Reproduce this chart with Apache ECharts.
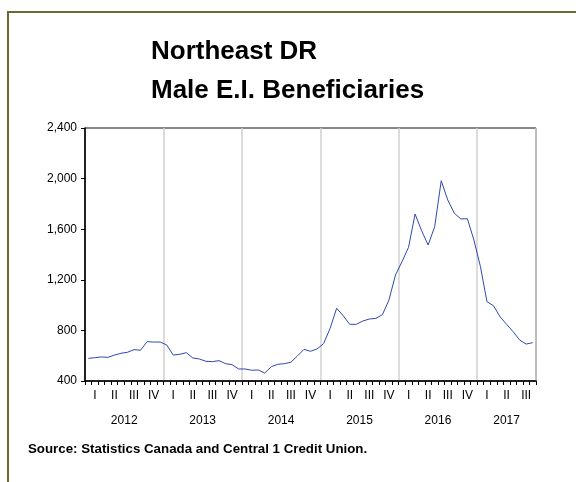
<!DOCTYPE html>
<html>
<head>
<meta charset="utf-8">
<script src="https://cdn.jsdelivr.net/npm/echarts@6/dist/echarts.min.js"></script>
<style>
  html, body { margin: 0; padding: 0; background: #ffffff; }
  #chart { width: 576px; height: 482px; }
</style>
</head>
<body>
<div id="chart"></div>
<script>
// Years shown on the time axis and the quarter numerals under each year
const years = ['2012', '2013', '2014', '2015', '2016', '2017'];
const quarterLabels = ['I', 'II', 'III', 'IV'];
// Months of data available in each year (2017 runs through September)
const monthsPerYear = [12, 12, 12, 12, 12, 9];

// Monthly male E.I. beneficiaries, Northeast development region
const values2012 = [579, 584, 590, 587, 605, 619, 627, 648, 643, 711, 708, 708];
const values2013 = [685, 605, 611, 624, 582, 574, 556, 553, 561, 537, 529, 495];
const values2014 = [495, 485, 487, 463, 513, 532, 537, 548, 598, 650, 635, 653];
const values2015 = [695, 816, 975, 916, 848, 848, 874, 890, 895, 924, 1040, 1238];
const values2016 = [1343, 1457, 1720, 1588, 1475, 1620, 1983, 1831, 1726, 1681, 1683, 1515];
const values2017 = [1304, 1027, 995, 908, 848, 790, 724, 692, 703];

// Value axis ticks
const yMin = 400, yMax = 2400, yStep = 400;

const beneficiaries = [].concat(values2012, values2013, values2014, values2015, values2016, values2017);

// Month categories such as "2012-01"
const months = [];
years.forEach((y, yi) => {
  for (let m = 1; m <= monthsPerYear[yi]; m++) {
    months.push(y + '-' + String(m).padStart(2, '0'));
  }
});

// Centre of each year's span, in months from the start of the axis
const yearCenters = [];
let start = 0;
monthsPerYear.forEach(n => { yearCenters.push(start + n / 2); start += n; });

const chart = echarts.init(document.getElementById('chart'), null, { renderer: 'canvas' });
const font = 'Liberation Sans, Arial, sans-serif';

chart.setOption({
  animation: false,
  backgroundColor: '#ffffff',
  title: {
    text: 'Northeast DR\nMale E.I. Beneficiaries',
    left: 151,
    top: 32,
    padding: 0,
    textStyle: {
      fontFamily: font,
      fontWeight: 'bold',
      fontSize: 26,
      lineHeight: 39,
      color: '#000000'
    }
  },
  graphic: [
    {
      type: 'polyline',
      shape: { points: [[8, 482], [8, 12], [576, 12]] },
      style: { stroke: '#6b6b2f', lineWidth: 2, fill: null }
    },
    {
      type: 'text',
      left: 28,
      top: 443,
      style: {
        text: 'Source: Statistics Canada and Central 1 Credit Union.',
        font: 'bold 13.3px ' + font,
        fill: '#000000'
      }
    }
  ],
  grid: {
    left: 85,
    right: 40,
    top: 128,
    bottom: 101,
    show: true,
    borderColor: '#111111',
    borderWidth: 1,
    backgroundColor: 'transparent'
  },
  xAxis: [
    {
      type: 'category',
      data: months,
      boundaryGap: true,
      axisLine: { lineStyle: { color: '#000000', width: 1.5 } },
      axisTick: {
        show: true,
        interval: 0,
        length: 4,
        lineStyle: { color: '#000000', width: 1 }
      },
      axisLabel: {
        interval: (index) => index % 3 === 1,
        formatter: (value) => {
          const m = parseInt(value.slice(5), 10);
          return quarterLabels[Math.floor((m - 1) / 3)];
        },
        margin: 9,
        fontFamily: font,
        fontSize: 12,
        color: '#000000'
      },
      splitLine: {
        show: true,
        interval: (index) => index > 0 && index % 12 === 0,
        lineStyle: { color: '#d0d0d0', width: 1.5 }
      }
    },
    {
      type: 'value',
      position: 'bottom',
      min: 0,
      max: months.length,
      axisLine: { show: false },
      axisTick: { show: false },
      splitLine: { show: false },
      axisLabel: {
        customValues: yearCenters,
        formatter: (v) => {
          const i = yearCenters.findIndex(c => Math.abs(c - v) < 1e-6);
          return i >= 0 ? years[i] : '';
        },
        margin: 34,
        fontFamily: font,
        fontSize: 12,
        color: '#000000'
      }
    }
  ],
  yAxis: {
    type: 'value',
    min: yMin,
    max: yMax,
    interval: yStep,
    axisLine: { show: true, lineStyle: { color: '#000000', width: 1.5 } },
    axisTick: { show: true, length: 4, lineStyle: { color: '#000000' } },
    splitLine: { show: false },
    axisLabel: {
      margin: 8,
      fontFamily: font,
      fontSize: 12,
      color: '#000000',
      formatter: (v) => v.toLocaleString('en-US')
    }
  },
  series: [
    {
      type: 'line',
      xAxisIndex: 0,
      data: beneficiaries,
      showSymbol: false,
      symbol: 'none',
      lineStyle: { color: '#3049b0', width: 1 }
    }
  ]
});
</script>
</body>
</html>
